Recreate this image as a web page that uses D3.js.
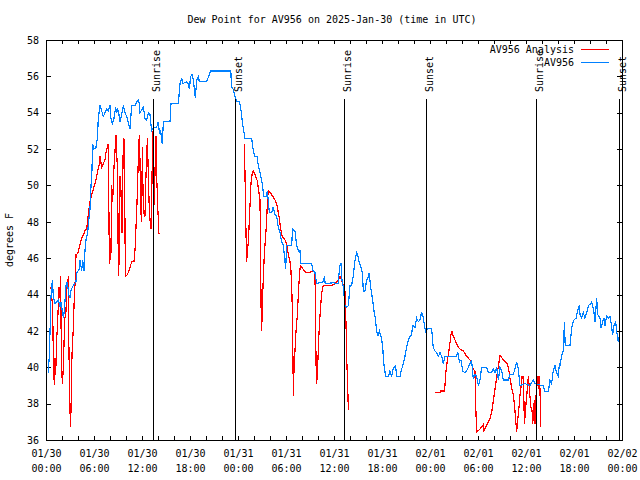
<!DOCTYPE html>
<html>
<head>
<meta charset="utf-8">
<script src="https://cdn.jsdelivr.net/npm/d3@7/dist/d3.min.js"></script>
<style>
  body { margin: 0; background: #fff; }
  text { font-family: "DejaVu Sans Mono", monospace; font-size: 10px; fill: #000; }
</style>
</head>
<body>
<div id="graf"></div>
<script>
// Hours since 2025-01-30 00:00 UTC, dew point in F
const stationPoints = [
  [0.29, 39.7], [0.42, 40.7], [0.54, 42.6], [0.62, 43.9], [0.79, 44.8], [0.92, 43.9], [1.12, 43.5],
  [1.54, 43.7], [1.75, 43.3], [1.87, 43.6], [2.04, 43.1], [2.17, 42.7], [2.29, 43.1], [2.5, 44.5],
  [2.67, 44.7], [2.83, 44.0], [3.0, 43.8], [3.12, 44.2], [3.29, 44.4], [3.54, 44.6], [3.75, 44.7],
  [3.83, 45.2], [4.17, 45.4], [4.25, 45.9], [4.46, 45.3], [4.58, 45.9], [4.75, 45.3], [4.87, 46.4],
  [5.0, 47.0], [5.2, 47.4], [5.33, 48.0], [5.5, 48.7], [5.58, 49.6], [5.75, 50.9], [5.83, 52.3],
  [6.0, 52.0], [6.25, 52.1], [6.42, 52.6], [6.54, 53.7], [6.75, 54.4], [6.96, 54.1], [7.17, 53.8],
  [7.37, 54.0], [7.58, 54.2], [7.79, 54.1], [8.0, 54.4], [8.12, 53.7], [8.29, 53.4], [8.5, 53.7],
  [8.71, 54.3], [8.83, 54.0], [8.96, 54.2], [9.12, 53.9], [9.25, 53.5], [9.46, 53.9], [9.67, 54.4],
  [9.87, 54.0], [10.17, 53.7], [10.29, 53.4], [10.5, 53.1], [10.71, 54.4], [11.12, 54.4], [11.33, 54.6],
  [11.54, 54.7], [11.67, 54.5], [11.75, 54.0], [12.17, 54.3], [12.37, 53.7], [12.58, 53.6], [12.79, 54.0],
  [13.0, 53.9], [13.2, 53.0], [13.42, 53.2], [13.83, 53.2], [14.04, 53.5], [14.17, 52.9], [14.33, 53.0],
  [14.46, 52.5], [14.54, 52.3], [14.67, 53.5], [15.5, 53.5], [15.62, 54.5], [16.54, 54.5], [16.75, 55.6],
  [16.96, 55.9], [17.08, 55.6], [17.58, 55.7], [17.79, 55.6], [17.92, 55.3], [18.08, 56.0], [18.25, 56.1],
  [18.42, 55.8], [18.54, 55.3], [18.67, 54.8], [18.83, 55.8], [19.04, 56.0], [19.17, 55.7], [20.08, 55.7],
  [20.58, 56.3], [23.1, 56.3], [23.2, 55.4], [23.4, 55.3], [23.6, 54.95], [23.83, 54.6], [24.17, 54.6],
  [24.33, 54.3], [24.46, 53.8], [24.67, 53.1], [24.87, 52.6], [25.7, 52.6], [25.92, 51.9], [26.1, 51.6],
  [26.4, 51.6], [26.5, 51.2], [26.75, 50.7], [26.96, 50.3], [27.08, 49.9], [27.25, 49.4], [27.5, 49.4],
  [27.67, 49.7], [27.8, 49.1], [27.92, 48.5], [28.2, 48.5], [28.4, 48.8], [28.6, 48.4], [28.83, 48.3],
  [29.04, 47.7], [29.25, 47.4], [29.46, 46.9], [29.67, 46.7], [29.87, 45.8], [29.96, 45.4], [30.08, 46.7],
  [30.7, 46.7], [30.83, 47.6], [31.12, 47.5], [31.33, 46.7], [31.54, 46.4], [31.75, 46.4], [31.87, 45.7],
  [33.2, 45.7], [33.4, 45.3], [33.62, 45.2], [33.83, 44.6], [34.67, 44.7], [34.8, 45.0], [34.9, 44.6],
  [35.9, 44.65], [36.5, 44.6], [36.75, 45.6], [36.87, 45.7], [37.0, 44.8], [37.17, 44.4], [37.37, 43.4],
  [37.58, 43.3], [37.8, 43.4], [38.0, 44.5], [38.2, 44.5], [38.4, 45.0], [38.6, 45.8], [38.83, 46.3],
  [38.96, 46.2], [39.17, 45.7], [39.33, 45.6], [39.54, 45.2], [39.67, 44.2], [39.87, 44.2], [40.08, 44.8],
  [40.3, 45.0], [40.4, 45.2], [40.58, 44.4], [40.83, 43.7], [41.0, 43.1], [41.17, 42.7], [41.33, 42.0],
  [41.46, 41.7], [41.67, 42.0], [41.87, 41.7], [42.08, 41.2], [42.17, 40.5], [42.3, 39.95], [42.46, 39.5],
  [42.8, 39.5], [43.0, 39.8], [43.2, 39.5], [43.4, 39.95], [43.7, 40.1], [43.83, 39.5], [44.25, 39.5],
  [44.46, 39.9], [44.67, 40.2], [44.87, 40.6], [45.08, 41.1], [45.3, 41.5], [45.5, 41.7], [45.7, 41.8],
  [45.83, 42.3], [46.12, 42.2], [46.33, 42.7], [46.54, 42.5], [46.75, 42.6], [46.96, 43.05], [47.17, 42.7],
  [47.37, 42.15], [47.5, 41.9], [47.67, 42.15], [48.2, 42.15], [48.4, 41.1], [48.62, 40.9], [48.83, 40.8],
  [49.04, 40.6], [49.25, 40.8], [49.46, 40.6], [49.67, 40.2], [49.87, 40.6], [51.33, 40.6], [51.46, 40.85],
  [51.67, 40.3], [51.87, 40.4], [52.08, 39.8], [52.37, 39.7], [52.58, 39.8], [53.0, 40.2], [53.2, 40.4],
  [53.4, 39.4], [53.62, 39.6], [53.83, 39.5], [54.04, 39.0], [54.25, 39.3], [54.46, 40.0], [55.08, 40.0],
  [55.3, 39.7], [55.7, 39.7], [55.9, 39.9], [56.12, 39.7], [56.33, 40.0], [56.54, 39.3], [56.75, 40.0],
  [56.96, 39.8], [57.17, 39.3], [57.8, 39.3], [58.0, 39.6], [58.4, 39.6], [58.62, 39.9], [58.83, 40.3],
  [59.04, 39.9], [59.25, 39.0], [59.87, 39.1], [60.5, 39.0], [60.9, 39.3], [61.12, 39.1], [61.96, 39.0],
  [62.17, 39.0], [62.37, 38.65], [62.8, 38.65], [63.0, 39.3], [63.2, 39.1], [63.4, 39.8], [63.62, 40.1],
  [63.83, 39.7], [64.04, 39.5], [64.17, 40.2], [64.25, 40.1], [64.46, 40.65], [64.67, 40.9], [64.8, 42.5],
  [64.9, 41.2], [65.5, 41.2], [65.7, 42.1], [65.83, 42.4], [66.0, 42.6], [66.25, 42.7], [66.46, 43.1],
  [66.67, 43.4], [66.75, 42.9], [66.96, 42.7], [67.17, 43.0], [67.37, 42.7], [67.58, 43.0], [67.8, 43.4],
  [68.08, 43.5], [68.2, 43.6], [68.33, 43.4], [68.5, 43.0], [68.62, 42.5], [68.7, 42.9], [68.83, 43.8],
  [68.96, 42.9], [69.25, 42.7], [69.37, 42.15], [69.58, 42.5], [69.75, 42.7], [69.87, 42.3], [70.08, 42.8],
  [70.29, 42.7], [70.5, 42.8], [70.62, 42.5], [70.83, 41.8], [71.0, 42.3], [71.2, 42.5], [71.33, 42.0],
  [71.54, 41.4], [71.75, 41.9]
]

const analysisDay1 = [
  [0.62, 44.4], [0.83, 43.3], [0.92, 40.5], [1.04, 39.0], [1.12, 40.5], [1.21, 39.6], [1.33, 41.5],
  [1.46, 42.5], [1.62, 44.4], [1.75, 43.8], [1.83, 45.0], [1.92, 40.6], [2.04, 39.1], [2.12, 39.6],
  [2.21, 40.6], [2.33, 42.6], [2.5, 43.1], [2.58, 44.4], [2.71, 44.6], [2.79, 45.0], [2.87, 40.8],
  [2.96, 38.85], [3.04, 36.7], [3.12, 37.55], [3.25, 40.7], [3.42, 42.2], [3.54, 43.9], [3.67, 44.9],
  [3.75, 46.2], [3.96, 46.25], [4.17, 46.6], [4.46, 47.1], [4.71, 47.3], [4.87, 47.5], [5.08, 47.6],
  [5.21, 48.1], [5.37, 48.7], [5.5, 49.1], [5.79, 49.6], [6.12, 50.1], [6.25, 50.3], [6.42, 50.7],
  [6.67, 51.2], [6.75, 51.6], [6.96, 51.0], [7.17, 51.2], [7.37, 51.4], [7.5, 51.8], [7.67, 52.1],
  [7.79, 52.3], [7.92, 45.7], [8.12, 46.3], [8.21, 50.0], [8.33, 49.1], [8.5, 51.0], [8.75, 52.75],
  [8.96, 50.5], [9.04, 45.0], [9.12, 45.7], [9.25, 50.5], [9.37, 49.7], [9.5, 47.4], [9.67, 52.6],
  [9.79, 52.5], [9.92, 45.0], [10.17, 45.1], [10.37, 45.3], [10.5, 45.5], [10.71, 45.8], [11.0, 45.8],
  [11.12, 46.4], [11.25, 47.7], [11.37, 49.0], [11.46, 50.2], [11.58, 52.1], [11.67, 52.75], [11.75, 51.3],
  [11.83, 48.7], [11.96, 48.0], [12.04, 52.1], [12.17, 48.6], [12.37, 48.3], [12.5, 50.6], [12.67, 52.6],
  [12.79, 50.6], [12.92, 48.6], [13.04, 47.9], [13.12, 47.6], [13.25, 50.3], [13.33, 53.0], [13.42, 50.6],
  [13.54, 48.9], [13.67, 51.65], [13.75, 52.7], [13.83, 50.6], [13.96, 48.9], [14.12, 47.35]
]

const analysisDay2 = [
  [24.8, 52.3], [24.87, 50.7], [25.0, 47.4], [25.08, 45.8], [25.17, 46.3], [25.3, 47.0], [25.4, 47.9],
  [25.5, 48.9], [25.62, 50.1], [25.79, 50.7], [25.92, 50.8], [26.12, 50.6], [26.42, 50.25], [26.67, 49.45],
  [26.75, 49.2], [26.83, 45.7], [26.92, 42.0], [27.0, 42.6], [27.08, 43.9], [27.17, 45.0], [27.3, 46.3],
  [27.42, 47.0], [27.58, 48.0], [27.7, 49.4], [27.83, 49.7], [28.2, 49.5], [28.62, 49.2], [28.83, 49.0],
  [29.17, 48.2], [29.33, 47.6], [29.54, 47.2], [29.87, 47.0], [30.08, 46.8], [30.29, 46.2], [30.5, 45.8],
  [30.62, 45.3], [30.75, 43.9], [30.83, 42.0], [30.92, 38.4], [31.0, 39.9], [31.12, 40.9], [31.25, 42.0],
  [31.42, 42.85], [31.54, 44.0], [31.67, 45.0], [31.79, 45.6], [31.96, 45.5], [32.37, 45.25], [32.79, 45.2],
  [33.4, 45.3], [33.62, 45.2], [33.71, 42.0], [33.79, 39.1], [33.87, 39.3], [33.96, 40.0], [34.08, 41.5],
  [34.25, 42.85], [34.46, 44.1], [34.67, 44.5], [35.7, 44.5], [36.12, 44.6], [36.54, 44.8], [36.75, 45.0],
  [37.17, 44.5], [37.37, 44.2], [37.5, 42.4], [37.58, 40.6], [37.71, 39.0], [37.79, 37.65]
]

const analysisDay3 = [
  [48.62, 38.6], [49.25, 38.6], [49.33, 38.7], [49.8, 38.7], [49.87, 39.0], [50.0, 39.8], [50.17, 40.4],
  [50.33, 40.8], [50.5, 41.35], [50.62, 41.8], [50.75, 41.95], [50.92, 41.7], [51.12, 41.5], [51.33, 41.3],
  [51.54, 41.1], [51.75, 41.0], [52.17, 40.9], [52.58, 40.6], [53.0, 40.4], [53.2, 40.2], [53.4, 39.9],
  [53.62, 39.8], [53.7, 38.1], [53.83, 36.45], [54.25, 36.6], [54.67, 36.85], [54.75, 36.5], [55.08, 36.8],
  [55.5, 37.2], [55.7, 37.5], [55.83, 37.9], [56.0, 38.4], [56.12, 38.8], [56.25, 39.2], [56.42, 39.75],
  [56.58, 40.1], [56.67, 40.5], [56.75, 40.65], [57.17, 40.4], [57.67, 40.2], [57.83, 39.9], [58.0, 39.4],
  [58.2, 38.9], [58.42, 38.45], [58.54, 38.0], [58.62, 37.6], [58.75, 36.9], [58.83, 36.45], [58.92, 36.9],
  [59.04, 37.45], [59.17, 38.0], [59.25, 38.5], [59.37, 38.9], [59.5, 39.5], [59.62, 39.5], [59.71, 38.9],
  [59.79, 36.9], [59.92, 37.45], [60.0, 38.0], [60.08, 38.35], [60.17, 38.9], [60.29, 39.5], [60.42, 38.9],
  [60.5, 38.35], [60.62, 37.8], [60.75, 37.65], [60.83, 36.9], [60.92, 37.3], [61.04, 38.2], [61.12, 36.9],
  [61.2, 38.2], [61.33, 38.8], [61.42, 39.5], [61.54, 38.8], [61.62, 39.5], [61.75, 38.8], [61.83, 36.7]
]

const sunHours = [13.4, 23.67, 37.3, 47.5, 61.3, 71.67]
const sunLabels = ['Sunrise', 'Sunset', 'Sunrise', 'Sunset', 'Sunrise', 'Sunset']

const yTicks = [36, 38, 40, 42, 44, 46, 48, 50, 52, 54, 56, 58]
const seriesNames = ['AV956 Analysis', 'AV956']
const seriesColors = ['#ff0000', '#0080ff']

const startTime = Date.UTC(2025, 0, 30, 0, 0)
const toDate = (h) => new Date(startTime + h * 36e5)

const draw = () => {
  const margins = { top: 40, right: 18, bottom: 40, left: 46 }
  const anchoTotal = 640
  const altoTotal = 480
  const ancho = anchoTotal - margins.left - margins.right
  const alto = altoTotal - margins.top - margins.bottom

  const svg = d3.select('#graf')
    .append('svg')
    .attr('width', anchoTotal)
    .attr('height', altoTotal)

  const g = svg.append('g')
    .attr('transform', `translate(${margins.left}, ${margins.top})`)

  const x = d3.scaleUtc()
    .domain([toDate(0), toDate(72)])
    .range([0, ancho])

  const y = d3.scaleLinear()
    .domain([36, 58])
    .range([alto, 0])

  // Minor ticks every 2 hours, bottom and top, pointing inward
  const minorTicks = d3.utcHour.every(2)

  g.append('g')
    .attr('transform', `translate(0, ${alto})`)
    .call(d3.axisBottom(x).ticks(minorTicks).tickSize(-4).tickSizeOuter(0).tickFormat(''))

  g.append('g')
    .call(d3.axisTop(x).ticks(minorTicks).tickSize(-4).tickSizeOuter(0).tickFormat(''))

  // Date labels every 6 hours
  const fmtDay = d3.utcFormat('%m/%d')
  const fmtHour = d3.utcFormat('%H:%M')

  const xLabels = g.append('g')
    .attr('transform', `translate(0, ${alto})`)
    .call(d3.axisBottom(x).ticks(d3.utcHour.every(6)).tickSize(0).tickSizeOuter(0).tickFormat(''))

  xLabels.selectAll('.tick').each(function (d) {
    const t = d3.select(this).select('text')
    t.attr('y', 0).attr('dy', null)
    t.append('tspan').attr('x', 0).attr('y', 17).text(fmtDay(d))
    t.append('tspan').attr('x', 0).attr('y', 32).text(fmtHour(d))
  })

  // Y axis
  g.append('g')
    .call(d3.axisLeft(y).tickValues(yTicks).tickSize(-5).tickSizeOuter(0).tickPadding(7).tickFormat(d3.format('d')))

  g.append('g')
    .attr('transform', `translate(${ancho}, 0)`)
    .call(d3.axisRight(y).tickValues(yTicks).tickSize(-5).tickSizeOuter(0).tickFormat(''))

  g.selectAll('.domain').remove()
  g.selectAll('.tick line').attr('stroke', '#000').attr('shape-rendering', 'crispEdges')
  g.selectAll('.tick text')
    .attr('font-family', '"DejaVu Sans Mono", monospace')
    .attr('font-size', 10)
    .attr('fill', '#000')

  // Frame
  g.append('rect')
    .attr('x', 0.5)
    .attr('y', 0.5)
    .attr('width', ancho)
    .attr('height', alto)
    .attr('fill', 'none')
    .attr('stroke', '#000')
    .attr('shape-rendering', 'crispEdges')

  // Series
  const line = d3.line()
    .x((d) => x(toDate(d[0])))
    .y((d) => y(d[1]))

  const series = [
    { data: analysisDay1, color: seriesColors[0] },
    { data: analysisDay2, color: seriesColors[0] },
    { data: analysisDay3, color: seriesColors[0] },
    { data: stationPoints, color: seriesColors[1] }
  ]

  g.selectAll('.serie')
    .data(series)
    .join('path')
    .attr('class', 'serie')
    .attr('d', (d) => line(d.data))
    .attr('fill', 'none')
    .attr('stroke', (d) => d.color)
    .attr('stroke-width', 1.2)
    .attr('shape-rendering', 'crispEdges')

  // Sunrise / sunset markers
  const sun = g.selectAll('.sun')
    .data(sunHours.map((h, i) => ({ h, label: sunLabels[i] })))
    .join('g')
    .attr('class', 'sun')
    .attr('transform', (d) => `translate(${Math.round(x(toDate(d.h))) + 0.5}, 0)`)

  sun.append('line')
    .attr('y1', 59)
    .attr('y2', alto)
    .attr('stroke', '#000')
    .attr('shape-rendering', 'crispEdges')

  sun.append('text')
    .attr('transform', 'translate(6, 52) rotate(-90)')
    .attr('text-anchor', 'start')
    .text((d) => d.label)

  // Legend
  const legend = g.selectAll('.legend')
    .data(seriesNames)
    .join('g')
    .attr('class', 'legend')
    .attr('transform', (d, i) => `translate(0, ${9 + i * 13})`)

  legend.append('text')
    .attr('x', 528)
    .attr('dy', '0.35em')
    .attr('text-anchor', 'end')
    .text((d) => d)

  legend.append('line')
    .attr('x1', 535)
    .attr('x2', 563)
    .attr('stroke', (d, i) => seriesColors[i])
    .attr('shape-rendering', 'crispEdges')

  // Titles
  svg.append('text')
    .attr('x', 332)
    .attr('y', 23)
    .attr('text-anchor', 'middle')
    .text('Dew Point for AV956 on 2025-Jan-30 (time in UTC)')

  svg.append('text')
    .attr('transform', `translate(13, ${margins.top + alto / 2}) rotate(-90)`)
    .attr('text-anchor', 'middle')
    .text('degrees F')
}

draw()
</script>
</body>
</html>
